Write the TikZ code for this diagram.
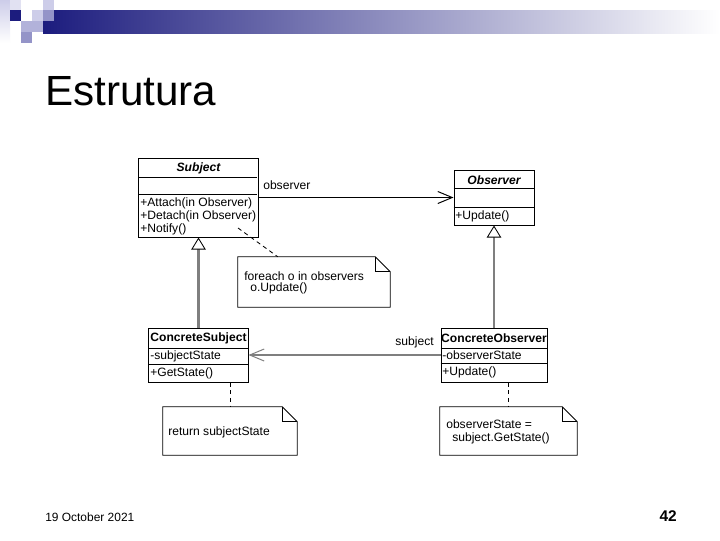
\documentclass[tikz,border=0pt]{standalone}
\usepackage{fontspec}
\setmainfont{Liberation Sans}
\usetikzlibrary{
  arrows.meta,
  calc,
  positioning
}

\definecolor{barnavy}{HTML}{1C1C7E}
\definecolor{barmid}{HTML}{A4A4BC}
\definecolor{sqpale}{HTML}{CDCDE9}
\definecolor{sqmid}{HTML}{9494C8}
\definecolor{sqlight}{HTML}{B2B2DA}
\definecolor{linkgray}{HTML}{7F7F7F}

\tikzset{
  umlclass/.style={draw, line width=0.7pt, inner sep=0, fill=white},
  umltext/.style={anchor=west, inner sep=0, font=\fontsize{8.6}{10}\selectfont},
  umltitle/.style={inner sep=0, font=\fontsize{8.6}{10}\selectfont\bfseries},
  notebox/.style={inner sep=0, draw=none},
  notestroke/.style={line width=0.6pt},
  notelink/.style={line width=0.6pt, dash pattern=on 3pt off 2.5pt},
  generalize/.style={linkgray, line width=2pt,
    -{Triangle[length=0.3cm, width=0.36cm, fill=white, color=black, line width=0.6pt]}},
  navarrow/.style={line width=0.7pt,
    -{Straight Barb[length=0.36cm, width=0.3cm, line width=0.7pt]}}
}

\newcommand{\notefold}[1]{%
  \draw[notestroke] (#1.north west) -- ([xshift=-0.375cm]#1.north east)
    -- ([yshift=-0.375cm]#1.north east) -- (#1.south east) -- (#1.south west) -- cycle;
  \draw[notestroke] ([xshift=-0.375cm]#1.north east)
    -- ([xshift=-0.375cm,yshift=-0.375cm]#1.north east) -- ([yshift=-0.375cm]#1.north east);
}

\begin{document}
\begin{tikzpicture}[x=0.025cm, y=-0.025cm]
  \fill[white] (0,0) rectangle (720,540);
  \useasboundingbox (0,0) rectangle (720,540);

  % header bar and squares
  \shade[left color=barnavy, middle color=barmid, right color=white] (43,10) rectangle (720,33);
  \shade[top color=sqpale, bottom color=white] (0,0) rectangle (10,43);
  \fill[sqpale!60] (10,0) rectangle (21,10);
  \fill[barnavy] (10,10) rectangle (21,21);
  \fill[sqpale] (32,10) rectangle (43,21);
  \fill[sqpale] (43,0) rectangle (54,10);
  \fill[sqmid] (43,10) rectangle (54,21);
  \fill[sqlight] (21,21) rectangle (43,32);
  \fill[sqmid] (21,32) rectangle (32,43);

  % title
  \node[anchor=base west, inner sep=0, font=\fontsize{30}{36}\selectfont] (slidetitle)
    at (45,105) {Estrutura};

  % Subject
  \node[umlclass, minimum width=2.975cm, minimum height=1.975cm] (subject) at (198.5,197.5) {};
  \draw[line width=0.7pt] ($(subject.north west)+(0,20)$) -- ++(119,0);
  \draw[line width=0.7pt] ($(subject.north west)+(0,37)$) -- ++(119,0);
  \node[umltitle, font=\fontsize{8.6}{10}\selectfont\bfseries\itshape] (subjecttitle) at (198.5,168) {Subject};
  \node[umltext] (attach) at (140,203) {+Attach(in Observer)};
  \node[umltext] (detach) at (140,216) {+Detach(in Observer)};
  \node[umltext] (notify) at (140,229) {+Notify()};

  % Observer
  \node[umlclass, minimum width=2cm, minimum height=1.375cm] (observer) at (494,197.5) {};
  \draw[line width=0.7pt] ($(observer.north west)+(0,19)$) -- ++(80,0);
  \draw[line width=0.7pt] ($(observer.north west)+(0,38)$) -- ++(80,0);
  \node[umltitle, font=\fontsize{8.6}{10}\selectfont\bfseries\itshape] (observertitle) at (494,180) {Observer};
  \node[umltext] (obsupdate) at (455,216) {+Update()};

  % ConcreteSubject
  \node[umlclass, minimum width=2.475cm, minimum height=1.35cm] (csubject) at (198.5,355) {};
  \draw[line width=0.7pt] ($(csubject.north west)+(0,21)$) -- ++(99,0);
  \draw[line width=0.7pt] ($(csubject.north west)+(0,37)$) -- ++(99,0);
  \node[umltitle] (csubjecttitle) at (198.5,338) {ConcreteSubject};
  \node[umltext] (substate) at (150,356) {-subjectState};
  \node[umltext] (getstate) at (150,373) {+GetState()};

  % ConcreteObserver
  \node[umlclass, minimum width=2.65cm, minimum height=1.35cm] (cobserver) at (494,355) {};
  \draw[line width=0.7pt] ($(cobserver.north west)+(0,21)$) -- ++(106,0);
  \draw[line width=0.7pt] ($(cobserver.north west)+(0,36)$) -- ++(106,0);
  \node[umltitle] (cobservertitle) at (494,338) {ConcreteObserver};
  \node[umltext] (obsstate) at (442,355) {-observerState};
  \node[umltext] (cobsupdate) at (442,372) {+Update()};

  % generalizations
  \draw[generalize] (csubject.north) -- (subject.south);
  \draw[generalize] (cobserver.north) -- (observer.south);

  % associations
  \draw[navarrow] (subject.east) -- (observer.west);
  \node[umltext] (obslabel) at (263,185) {observer};
  \draw[navarrow, linkgray, line width=1.2pt] (cobserver.west) -- (csubject.east);
  \node[umltext, anchor=east] (sublabel) at (434,342) {subject};

  % notes
  \node[notebox, minimum width=3.8cm, minimum height=1.25cm] (foreachnote) at (314,282) {};
  \notefold{foreachnote}
  \node[umltext] (foreachline) at (244,276) {foreach o in observers};
  \node[umltext] (updateline) at (250,288) {o.Update()};

  \node[notebox, minimum width=3.35cm, minimum height=1.2cm] (returnnote) at (230,431) {};
  \notefold{returnnote}
  \node[umltext] (returnline) at (168,432) {return subjectState};

  \node[notebox, minimum width=3.425cm, minimum height=1.2cm] (statenote) at (508.5,431) {};
  \notefold{statenote}
  \node[umltext] (stateline) at (446,424) {observerState =};
  \node[umltext] (getline) at (452,438) {subject.GetState()};

  % note links
  \coordinate (notifyref) at (238,228);
  \draw[notelink] (notifyref) -- ($(foreachnote.north west)+(40,0)$);
  \draw[notelink] (returnnote.north |- csubject.south) -- (returnnote.north);
  \draw[notelink] (statenote.north |- cobserver.south) -- (statenote.north);

  % footer
  \node[anchor=west, inner sep=0, font=\fontsize{8.5}{10}\selectfont] (datefoot) at (45,517) {19 October 2021};
  \node[anchor=east, inner sep=0, font=\fontsize{11}{13}\selectfont\bfseries] (pagenum) at (677,516) {42};
\end{tikzpicture}
\end{document}
